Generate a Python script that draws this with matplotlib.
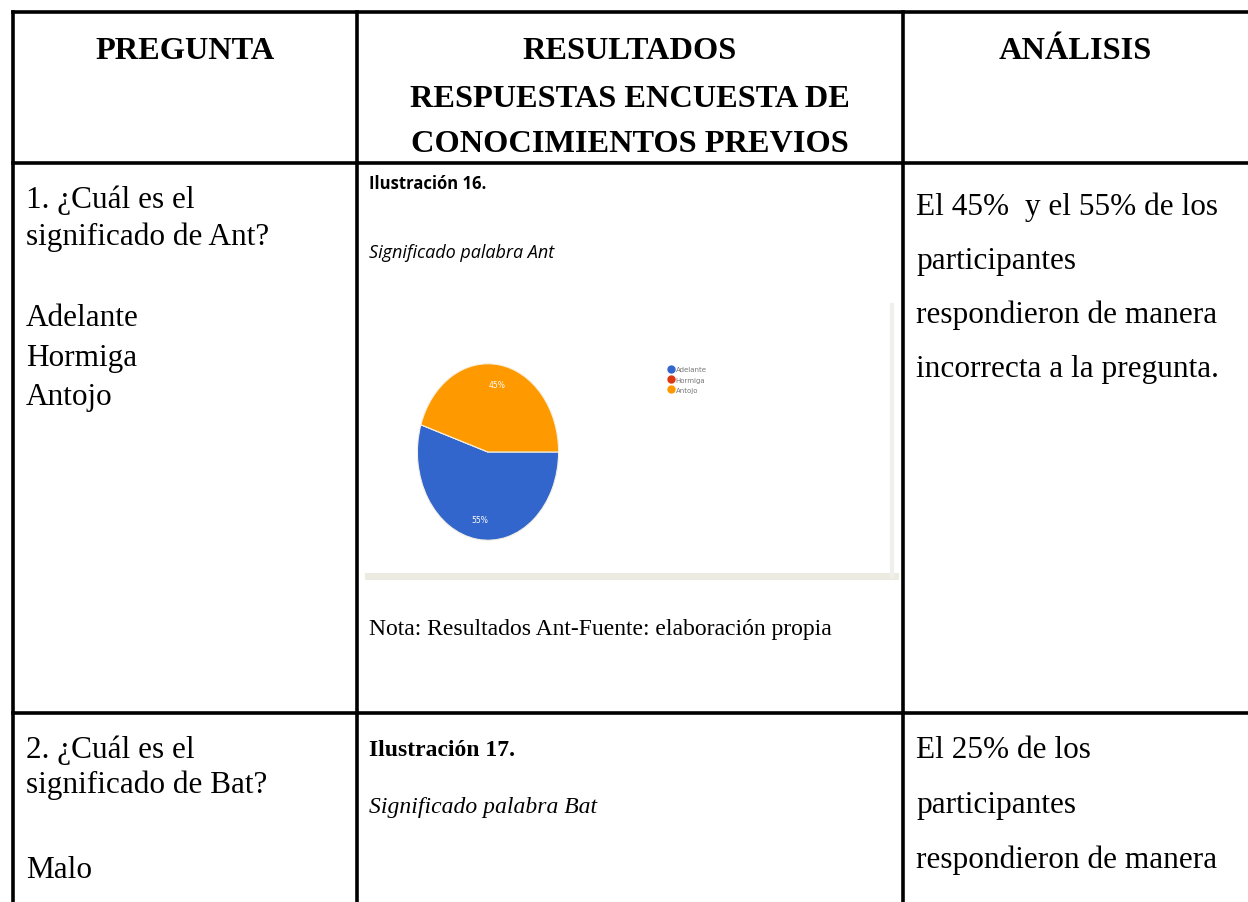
import matplotlib.pyplot as plt
from matplotlib.lines import Line2D
from matplotlib.patches import Rectangle

# datos del gráfico (Ilustración 16)
opciones = ['Adelante', 'Hormiga', 'Antojo']
porcentajes = [55, 0, 45]
colores = ['#3366cc', '#dc3912', '#ff9900']

encabezado_resultados = ['RESULTADOS', 'RESPUESTAS ENCUESTA DE', 'CONOCIMIENTOS PREVIOS']
pregunta1 = ['1. ¿Cuál es el', 'significado de Ant?', 'Adelante', 'Hormiga', 'Antojo']
analisis1 = ['El 45%  y el 55% de los', 'participantes', 'respondieron de manera',
             'incorrecta a la pregunta.']
pregunta2 = ['2. ¿Cuál es el', 'significado de Bat?', 'Malo']
analisis2 = ['El 25% de los', 'participantes', 'respondieron de manera']

W, H = 1248, 903
fig = plt.figure(figsize=(W / 100, H / 100), dpi=100)
ax = fig.add_axes([0, 0, 1, 1])
ax.set_xlim(0, W)
ax.set_ylim(H, 0)
ax.axis('off')

serif = 'Liberation Serif'
lw = 2.6
fs_head = 23.3
fs_body = 22.5

# bordes de la tabla
for y in [13, 164, 714]:
    ax.plot([13, W + 5], [y, y], color='black', lw=lw, solid_capstyle='projecting')
for x in [13, 357, 903]:
    ax.plot([x, x], [13, H + 5], color='black', lw=lw, solid_capstyle='projecting')

# encabezados
ax.text(185, 59, 'PREGUNTA', ha='center', va='baseline', family=serif,
        weight='bold', fontsize=fs_head)
for t, y in zip(encabezado_resultados, [59, 107, 152]):
    ax.text(630, y, t, ha='center', va='baseline', family=serif,
            weight='bold', fontsize=fs_head)
ax.text(1075, 59, 'ANÁLISIS', ha='center', va='baseline', family=serif,
        weight='bold', fontsize=fs_head)

# columna pregunta
for t, y in zip(pregunta1, [208, 245, 326, 366, 405]):
    ax.text(26, y, t, va='baseline', family=serif, fontsize=fs_body)
for t, y in zip(pregunta2, [758, 793, 878]):
    ax.text(26, y, t, va='baseline', family=serif, fontsize=fs_body)

# columna análisis
for i, t in enumerate(analisis1):
    ax.text(916, 215 + i * 54, t, va='baseline', family=serif, fontsize=fs_body)
for i, t in enumerate(analisis2):
    ax.text(916, 758 + i * 55, t, va='baseline', family=serif, fontsize=fs_body)

# columna resultados
ax.text(369, 189, 'Ilustración 16.', va='baseline', family='Open Sans',
        weight='bold', fontsize=12)
ax.text(369, 258, 'Significado palabra Ant', va='baseline', family='Open Sans',
        style='italic', fontsize=13)
ax.text(369, 635, 'Nota: Resultados Ant-Fuente: elaboración propia', va='baseline',
        family=serif, fontsize=17)
ax.text(369, 756, 'Ilustración 17.', va='baseline', family=serif,
        weight='bold', fontsize=17)
ax.text(369, 813, 'Significado palabra Bat', va='baseline', family=serif,
        style='italic', fontsize=17)

# marco de la imagen del gráfico
ax.add_patch(Rectangle((368, 306), 524, 271, facecolor='white', edgecolor='none'))
ax.plot([368, 895], [577, 577], color='#ebebe2', lw=5)
ax.plot([892, 892], [306, 577], color='#f0f0ea', lw=3)

# gráfico de torta
cx, cy, rx, ry = 488, 453, 72, 90
pax = fig.add_axes([(cx - rx) / W, 1 - (cy + ry) / H, 2 * rx / W, 2 * ry / H])
wedges, textos, autotextos = pax.pie(
    porcentajes, colors=colores, startangle=0, counterclock=False, radius=1,
    autopct=lambda p: f'{p:.0f}%' if p > 0 else '', pctdistance=0.78,
    wedgeprops=dict(edgecolor='#f5f0e0', linewidth=0.8),
    textprops=dict(color='white', fontsize=5.5))
pax.set_aspect('auto')
pax.set_xlim(-1.02, 1.02)
pax.set_ylim(-1.02, 1.02)

handles = [Line2D([], [], marker='o', ls='', color=c, markersize=5) for c in colores]
fig.legend(handles, opciones, loc='upper left', bbox_to_anchor=(664 / W, 1 - 364 / H),
           frameon=False, fontsize=5, labelcolor='#777777', handletextpad=0.2,
           labelspacing=0.6, borderpad=0, handlelength=1)

fig.savefig('out.png', dpi=100)
